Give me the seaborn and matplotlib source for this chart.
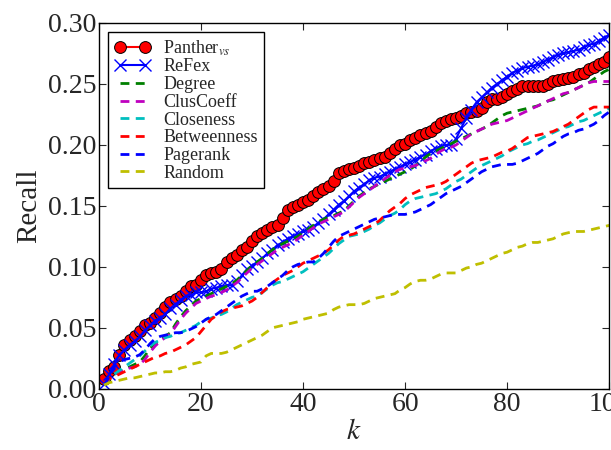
import numpy as np
import pandas as pd
import matplotlib
matplotlib.use("Agg")
import matplotlib.pyplot as plt
import seaborn as sns

k = list(range(1, 101))

panther = [0.008, 0.015, 0.018, 0.028, 0.036, 0.040, 0.043, 0.047, 0.052, 0.054,
           0.058, 0.062, 0.067, 0.071, 0.074, 0.076, 0.080, 0.084, 0.085, 0.089,
           0.093, 0.095, 0.096, 0.098, 0.104, 0.107, 0.110, 0.114, 0.116, 0.121,
           0.125, 0.128, 0.130, 0.133, 0.134, 0.140, 0.147, 0.149, 0.151, 0.153,
           0.155, 0.158, 0.161, 0.164, 0.166, 0.170, 0.177, 0.179, 0.180, 0.181,
           0.183, 0.185, 0.186, 0.188, 0.189, 0.190, 0.193, 0.197, 0.200, 0.201,
           0.204, 0.206, 0.208, 0.210, 0.211, 0.215, 0.218, 0.220, 0.221, 0.222,
           0.224, 0.226, 0.227, 0.228, 0.230, 0.235, 0.238, 0.238, 0.239, 0.242,
           0.244, 0.246, 0.248, 0.248, 0.248, 0.248, 0.248, 0.250, 0.252, 0.253,
           0.254, 0.255, 0.256, 0.258, 0.259, 0.262, 0.264, 0.266, 0.268, 0.272]

refex = [0.004, 0.012, 0.020, 0.028, 0.032, 0.036, 0.039, 0.043, 0.048, 0.052,
         0.056, 0.058, 0.061, 0.066, 0.069, 0.073, 0.076, 0.077, 0.079, 0.079,
         0.080, 0.082, 0.083, 0.084, 0.085, 0.085, 0.088, 0.093, 0.098, 0.101,
         0.104, 0.107, 0.111, 0.114, 0.118, 0.120, 0.123, 0.125, 0.127, 0.129,
         0.130, 0.133, 0.136, 0.139, 0.143, 0.147, 0.151, 0.154, 0.158, 0.162,
         0.165, 0.168, 0.171, 0.173, 0.174, 0.176, 0.178, 0.180, 0.182, 0.184,
         0.186, 0.188, 0.190, 0.192, 0.195, 0.197, 0.199, 0.200, 0.200, 0.205,
         0.214, 0.222, 0.229, 0.235, 0.239, 0.243, 0.247, 0.250, 0.253, 0.256,
         0.259, 0.261, 0.263, 0.264, 0.265, 0.266, 0.268, 0.270, 0.272, 0.274,
         0.275, 0.276, 0.277, 0.278, 0.280, 0.282, 0.283, 0.285, 0.288, 0.290]

degree = [0.003, 0.008, 0.012, 0.014, 0.016, 0.018, 0.020, 0.022, 0.027, 0.033,
          0.037, 0.040, 0.043, 0.046, 0.053, 0.059, 0.064, 0.068, 0.072, 0.074,
          0.076, 0.078, 0.080, 0.082, 0.084, 0.086, 0.089, 0.093, 0.097, 0.101,
          0.104, 0.107, 0.111, 0.114, 0.117, 0.119, 0.121, 0.123, 0.125, 0.128,
          0.131, 0.134, 0.137, 0.139, 0.141, 0.142, 0.144, 0.146, 0.150, 0.154,
          0.158, 0.161, 0.164, 0.166, 0.168, 0.170, 0.172, 0.174, 0.176, 0.178,
          0.180, 0.183, 0.186, 0.190, 0.193, 0.195, 0.197, 0.199, 0.201, 0.203,
          0.205, 0.207, 0.209, 0.211, 0.213, 0.215, 0.218, 0.221, 0.224, 0.226,
          0.227, 0.228, 0.229, 0.230, 0.231, 0.232, 0.234, 0.236, 0.237, 0.239,
          0.241, 0.243, 0.245, 0.247, 0.249, 0.251, 0.254, 0.257, 0.260, 0.262]

cluscoeff = [0.003, 0.008, 0.012, 0.014, 0.016, 0.017, 0.018, 0.020, 0.024, 0.030,
             0.035, 0.039, 0.042, 0.045, 0.051, 0.057, 0.062, 0.066, 0.070, 0.072,
             0.074, 0.076, 0.077, 0.079, 0.081, 0.084, 0.087, 0.091, 0.095, 0.099,
             0.102, 0.105, 0.108, 0.111, 0.114, 0.116, 0.118, 0.120, 0.123, 0.126,
             0.129, 0.132, 0.135, 0.137, 0.139, 0.141, 0.143, 0.145, 0.149, 0.153,
             0.157, 0.160, 0.163, 0.166, 0.169, 0.172, 0.175, 0.178, 0.180, 0.181,
             0.182, 0.183, 0.185, 0.187, 0.189, 0.192, 0.195, 0.197, 0.198, 0.200,
             0.203, 0.206, 0.209, 0.211, 0.213, 0.215, 0.217, 0.218, 0.219, 0.220,
             0.222, 0.224, 0.226, 0.228, 0.230, 0.232, 0.234, 0.236, 0.238, 0.240,
             0.242, 0.243, 0.245, 0.247, 0.249, 0.251, 0.252, 0.252, 0.252, 0.252]

closeness = [0.003, 0.008, 0.012, 0.015, 0.018, 0.021, 0.024, 0.027, 0.031, 0.035,
             0.038, 0.040, 0.042, 0.043, 0.045, 0.046, 0.048, 0.050, 0.052, 0.055,
             0.057, 0.058, 0.060, 0.061, 0.063, 0.066, 0.069, 0.071, 0.073, 0.075,
             0.076, 0.079, 0.082, 0.085, 0.087, 0.088, 0.090, 0.092, 0.094, 0.096,
             0.099, 0.102, 0.105, 0.108, 0.111, 0.115, 0.119, 0.122, 0.125, 0.126,
             0.127, 0.129, 0.131, 0.134, 0.136, 0.139, 0.142, 0.144, 0.147, 0.151,
             0.154, 0.156, 0.157, 0.158, 0.159, 0.160, 0.162, 0.164, 0.167, 0.170,
             0.172, 0.175, 0.178, 0.181, 0.183, 0.185, 0.187, 0.189, 0.191, 0.194,
             0.196, 0.198, 0.200, 0.201, 0.203, 0.204, 0.206, 0.208, 0.210, 0.212,
             0.214, 0.215, 0.217, 0.219, 0.220, 0.222, 0.224, 0.226, 0.228, 0.230]

betweenness = [0.005, 0.008, 0.010, 0.012, 0.014, 0.016, 0.018, 0.020, 0.022, 0.024,
               0.026, 0.027, 0.029, 0.030, 0.032, 0.034, 0.036, 0.039, 0.042, 0.047,
               0.052, 0.057, 0.060, 0.063, 0.065, 0.066, 0.067, 0.068, 0.070, 0.072,
               0.075, 0.079, 0.083, 0.087, 0.090, 0.093, 0.095, 0.097, 0.100, 0.103,
               0.105, 0.107, 0.109, 0.111, 0.114, 0.118, 0.122, 0.125, 0.126, 0.127,
               0.129, 0.131, 0.133, 0.135, 0.138, 0.142, 0.146, 0.149, 0.152, 0.156,
               0.159, 0.161, 0.163, 0.165, 0.166, 0.167, 0.168, 0.170, 0.173, 0.176,
               0.179, 0.182, 0.185, 0.187, 0.188, 0.189, 0.190, 0.192, 0.194, 0.195,
               0.197, 0.200, 0.203, 0.206, 0.207, 0.208, 0.209, 0.210, 0.211, 0.213,
               0.215, 0.217, 0.220, 0.223, 0.226, 0.229, 0.231, 0.231, 0.231, 0.231]

pagerank = [0.003, 0.010, 0.018, 0.022, 0.024, 0.025, 0.026, 0.028, 0.032, 0.037,
            0.041, 0.043, 0.044, 0.045, 0.046, 0.046, 0.047, 0.049, 0.051, 0.054,
            0.057, 0.059, 0.061, 0.064, 0.067, 0.070, 0.073, 0.076, 0.078, 0.080,
            0.080, 0.082, 0.084, 0.087, 0.090, 0.093, 0.097, 0.100, 0.102, 0.103,
            0.104, 0.104, 0.107, 0.111, 0.116, 0.121, 0.125, 0.127, 0.129, 0.131,
            0.133, 0.135, 0.137, 0.139, 0.140, 0.141, 0.142, 0.143, 0.143, 0.143,
            0.144, 0.145, 0.147, 0.149, 0.151, 0.154, 0.157, 0.160, 0.162, 0.164,
            0.166, 0.169, 0.172, 0.175, 0.178, 0.180, 0.182, 0.183, 0.184, 0.184,
            0.184, 0.185, 0.187, 0.189, 0.191, 0.193, 0.196, 0.199, 0.201, 0.204,
            0.207, 0.209, 0.210, 0.212, 0.213, 0.215, 0.217, 0.220, 0.224, 0.227]

random_sel = [0.003, 0.005, 0.006, 0.007, 0.008, 0.009, 0.009, 0.010, 0.011, 0.012,
              0.013, 0.013, 0.014, 0.014, 0.015, 0.017, 0.018, 0.020, 0.021, 0.022,
              0.027, 0.029, 0.029, 0.029, 0.030, 0.032, 0.034, 0.036, 0.038, 0.040,
              0.042, 0.044, 0.047, 0.050, 0.051, 0.052, 0.053, 0.054, 0.055, 0.057,
              0.058, 0.059, 0.060, 0.061, 0.062, 0.065, 0.067, 0.068, 0.069, 0.069,
              0.069, 0.070, 0.072, 0.074, 0.075, 0.076, 0.077, 0.078, 0.081, 0.083,
              0.086, 0.088, 0.089, 0.089, 0.090, 0.092, 0.094, 0.095, 0.095, 0.095,
              0.097, 0.099, 0.100, 0.102, 0.103, 0.105, 0.107, 0.109, 0.111, 0.112,
              0.114, 0.116, 0.117, 0.119, 0.120, 0.120, 0.121, 0.122, 0.123, 0.125,
              0.127, 0.128, 0.129, 0.129, 0.129, 0.130, 0.131, 0.132, 0.133, 0.134]

labels = [r"Panther$_{vs}$", "ReFex", "Degree", "ClusCoeff",
          "Closeness", "Betweenness", "Pagerank", "Random"]
series = [panther, refex, degree, cluscoeff, closeness, betweenness, pagerank, random_sel]
colors = ["#ff0000", "#0000ff", "#008000", "#bf00bf",
          "#00bfbf", "#ff0000", "#0000ff", "#bfbf00"]

df = pd.DataFrame({
    "k": np.tile(k, len(labels)),
    "Recall": np.concatenate(series),
    "method": np.repeat(labels, len(k)),
})

sns.set_style("ticks")
plt.rcParams.update({
    "font.family": ["Liberation Serif", "DejaVu Serif"],
    "mathtext.fontset": "stix",
    "xtick.direction": "in",
    "ytick.direction": "in",
    "xtick.top": True,
    "ytick.right": True,
    "xtick.major.size": 5,
    "ytick.major.size": 5,
    "xtick.major.width": 0.8,
    "ytick.major.width": 0.8,
    "axes.edgecolor": "black",
    "axes.linewidth": 1.0,
})

fig = plt.figure(figsize=(6.11, 4.5), dpi=100)
ax = fig.add_axes([0.162, 0.136, 0.835, 0.813])

for i, (lab, col) in enumerate(zip(labels, colors)):
    sub = df[df["method"] == lab]
    if i == 0:
        sns.lineplot(data=sub, x="k", y="Recall", ax=ax, color=col, label=lab,
                     marker="o", markersize=8.5, markeredgecolor="black",
                     markeredgewidth=0.7, linewidth=1.5)
    elif i == 1:
        sns.lineplot(data=sub, x="k", y="Recall", ax=ax, color=col, label=lab,
                     marker="x", markersize=9, markeredgewidth=1.0,
                     markeredgecolor=col, linewidth=1.5)
    else:
        sns.lineplot(data=sub, x="k", y="Recall", ax=ax, color=col, label=lab,
                     linewidth=2.0, dashes=False)
        ax.lines[-1].set_linestyle((0, (3.2, 2.3)))

ax.set_xlim(0, 100)
ax.set_ylim(0, 0.30)
ax.set_xticks([0, 20, 40, 60, 80, 100])
ax.set_yticks([0.00, 0.05, 0.10, 0.15, 0.20, 0.25, 0.30])
ax.set_yticklabels(["0.00", "0.05", "0.10", "0.15", "0.20", "0.25", "0.30"])
ax.tick_params(labelsize=20, pad=2)
ax.set_xlabel(r"$k$", fontsize=21, labelpad=2)
ax.set_ylabel("Recall", fontsize=21, labelpad=4)
for s in ax.spines.values():
    s.set_visible(True)
    s.set_color("black")

handles, _ = ax.get_legend_handles_labels()
leg = ax.legend(handles, labels, loc="upper left", fontsize=13, frameon=True,
                fancybox=False, framealpha=1.0, edgecolor="black",
                numpoints=2, handlelength=2.0, borderpad=0.35,
                labelspacing=0.04, handletextpad=0.7,
                bbox_to_anchor=(0.0, 1.0), borderaxespad=0.5)
leg.get_frame().set_linewidth(1.0)

fig.savefig("out.png", dpi=100, facecolor="white")
